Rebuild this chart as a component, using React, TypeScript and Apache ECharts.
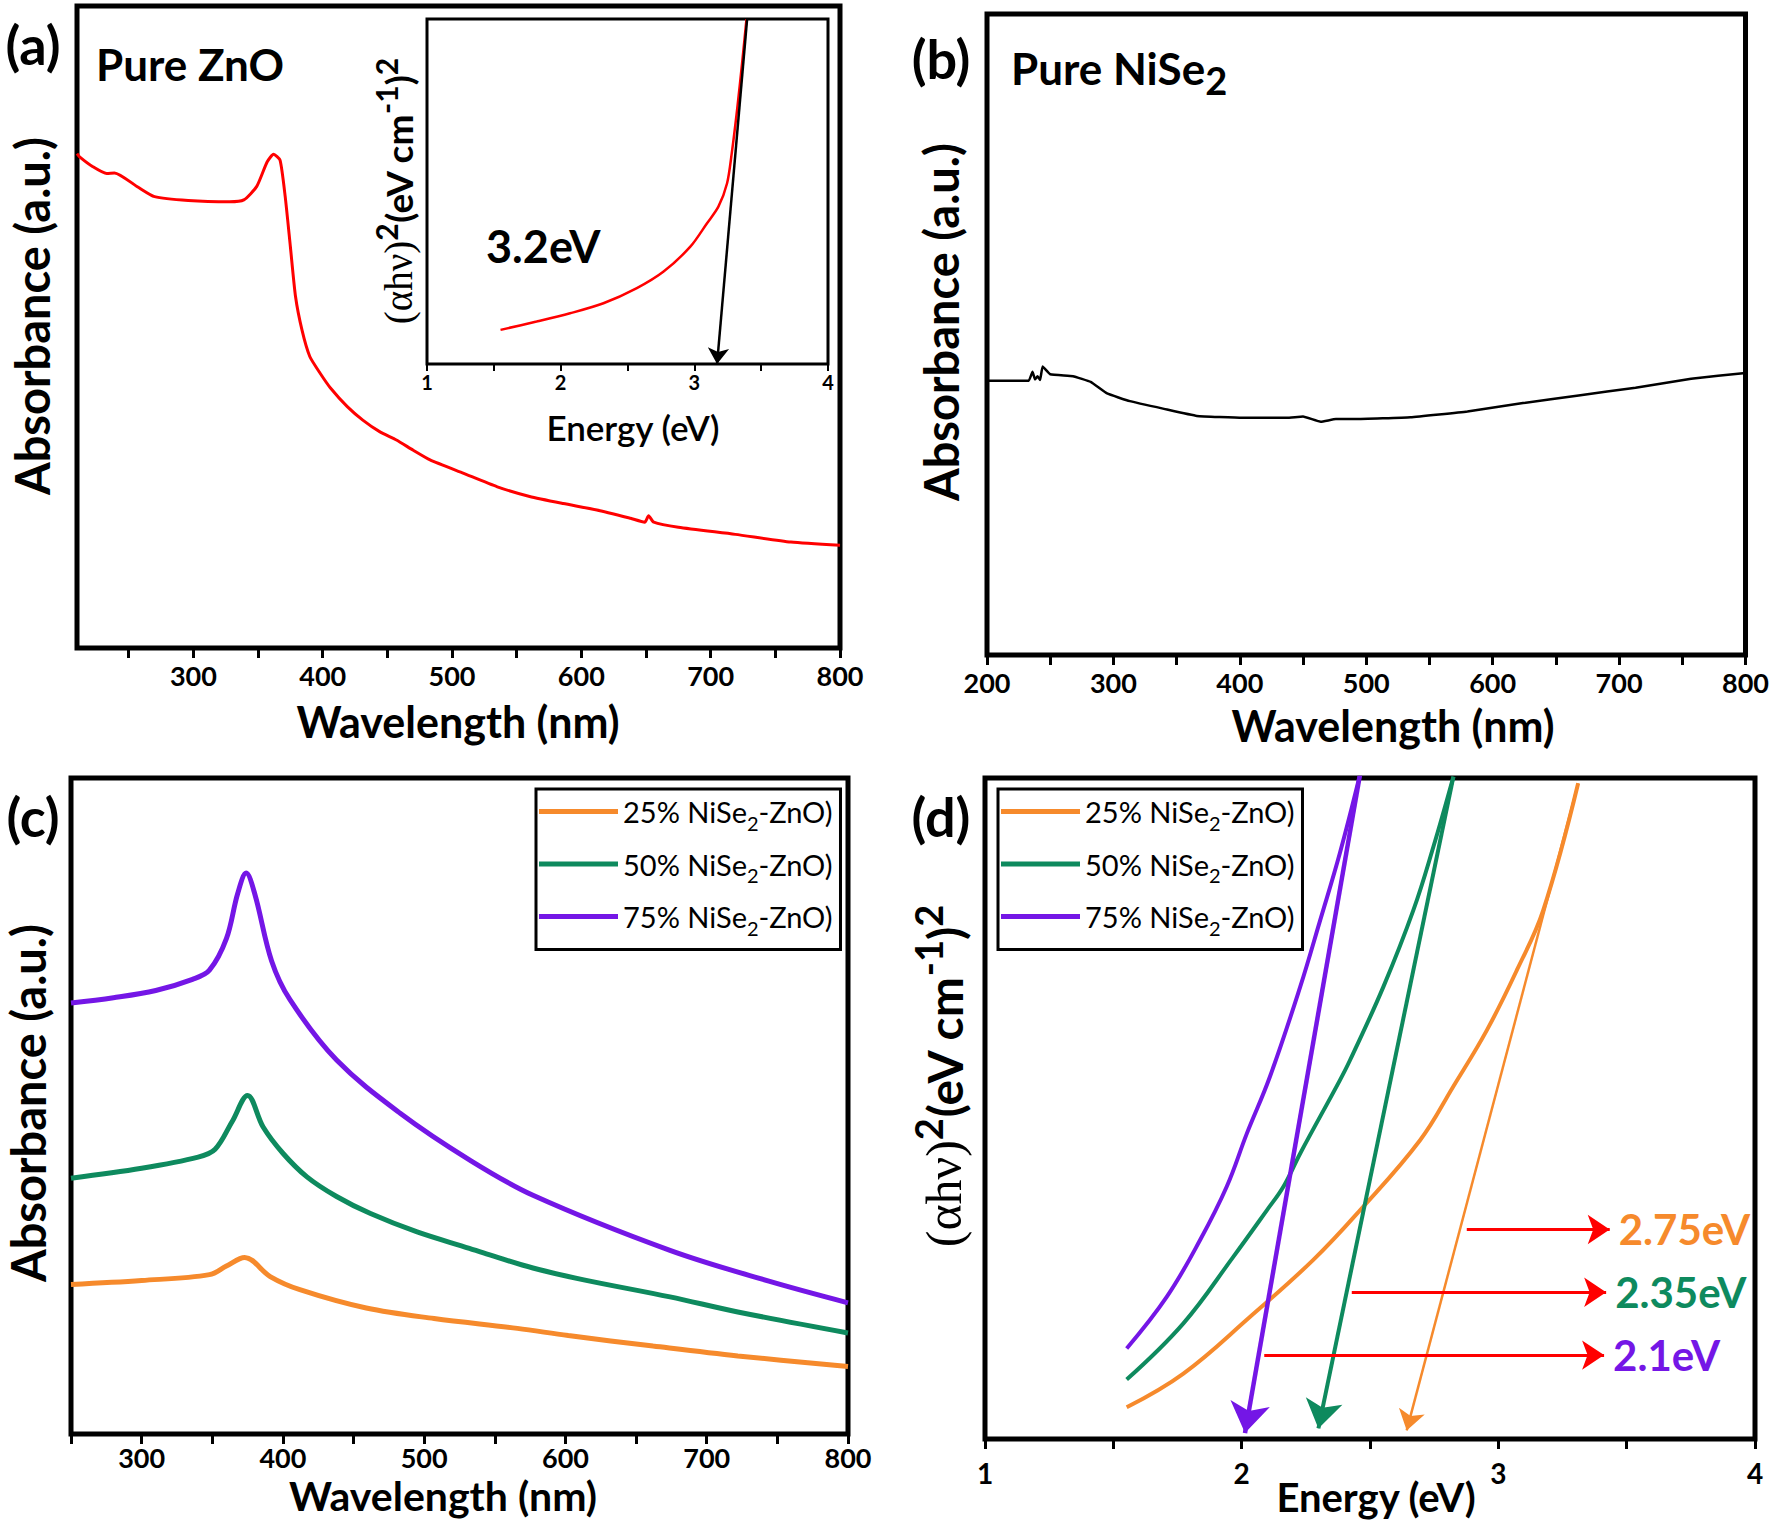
import React, { useEffect, useRef } from 'react';
import * as echarts from 'echarts';

const FONT = 'Lato, "Open Sans", "DejaVu Sans", sans-serif';
const RED = '#FF0000';
const ORANGE = '#F68A2C';
const GREEN = '#0E8A5E';
const PURPLE = '#7416E6';

// (a) Pure ZnO absorbance
const aWavelength = [210, 212, 222, 233, 239, 257, 270, 296, 328, 339, 349, 357, 362, 367, 371, 375, 379, 384, 390, 398, 406, 419, 431, 444, 457, 470, 483, 509, 535, 560, 586, 612, 638, 649, 652, 656, 675, 719, 762, 800];
const aAbsorbance = [77.0, 76.5, 75.0, 73.9, 74.0, 71.8, 70.3, 69.7, 69.5, 69.8, 71.9, 75.7, 76.9, 76.0, 70.3, 62.5, 54.7, 49.5, 45.4, 42.8, 40.5, 37.6, 35.5, 33.7, 32.4, 30.8, 29.3, 27.2, 25.1, 23.6, 22.5, 21.5, 20.2, 19.6, 20.6, 19.6, 18.8, 17.7, 16.5, 16.0];

// (a) inset Tauc plot
const insetEnergy = [1.55, 1.82, 2.07, 2.32, 2.57, 2.77, 2.97, 3.095, 3.18, 3.245, 3.28, 3.32, 3.36, 3.39];
const insetTauc = [9.9, 12.3, 14.7, 17.6, 22.0, 26.8, 34.0, 40.8, 45.6, 52.4, 61.1, 73.7, 88.2, 100];
const insetTangent = [[3.395, 100], [3.17, 0]];

// (b) Pure NiSe2 absorbance
const bWavelength = [200, 233, 236, 238, 240, 242, 244, 250, 268, 282, 295, 313, 340, 366, 402, 437, 450, 464, 476, 491, 535, 580, 624, 668, 713, 757, 800];
const bAbsorbance = [42.8, 42.8, 44.2, 43.0, 43.5, 42.9, 45.0, 43.8, 43.5, 42.6, 40.8, 39.6, 38.4, 37.3, 37.0, 37.0, 37.2, 36.4, 36.8, 36.8, 37.1, 38.0, 39.3, 40.5, 41.7, 43.1, 44.0];

// (c) composites absorbance
const seriesNames = ['25% NiSe2-ZnO)', '50% NiSe2-ZnO)', '75% NiSe2-ZnO)'];
const c25Wl = [250, 300, 348, 360, 373, 391, 412, 459, 507, 566, 602, 662, 722, 800];
const c25Abs = [22.8, 23.4, 24.3, 25.6, 26.9, 24.0, 22.0, 19.2, 17.6, 16.1, 15.0, 13.4, 11.9, 10.3];
const c50Wl = [250, 300, 340, 352, 364, 375, 386, 400, 417, 438, 462, 495, 532, 542, 577, 613, 674, 722, 800];
const c50Abs = [39.0, 40.5, 42.2, 43.4, 47.6, 51.6, 46.8, 42.8, 39.2, 36.2, 33.6, 30.8, 28.3, 27.6, 25.3, 23.5, 20.9, 18.6, 15.4];
const c75Wl = [250, 280, 310, 336, 348, 360, 368, 374, 380, 392, 405, 438, 483, 532, 577, 674, 744, 800];
const c75Abs = [65.7, 66.5, 67.6, 69.3, 70.7, 75.5, 82.4, 85.5, 82.4, 72.1, 66.2, 57.0, 48.9, 41.8, 36.4, 28.0, 23.3, 20.0];

// (d) Tauc plots
const d25E = [1.552, 1.773, 2.033, 2.279, 2.461, 2.695, 2.824, 2.956, 3.073, 3.175, 3.311];
const d25T = [4.8, 9.9, 18.5, 27.1, 34.6, 45.2, 53.3, 61.9, 71.0, 80.0, 99.2];
const d50E = [1.552, 1.773, 1.968, 2.098, 2.163, 2.228, 2.383, 2.422, 2.552, 2.669, 2.747, 2.825];
const d50T = [9.0, 17.5, 27.6, 34.6, 38.2, 43.2, 54.3, 57.3, 68.4, 80.0, 89.6, 100.2];
const d75E = [1.552, 1.708, 1.838, 1.942, 2.02, 2.11, 2.228, 2.306, 2.383, 2.461];
const d75T = [13.7, 21.5, 30.1, 38.2, 46.2, 54.8, 68.4, 78.5, 88.7, 100.5];
const dTangents = [
  [[3.311, 99.2], [2.643, 1.3]],
  [[2.825, 100.2], [2.299, 1.6]],
  [[2.461, 100.5], [2.013, 0.9]],
];
const gapLabels = ['2.75eV', '2.35eV', '2.1eV'];
const gapArrowStart = [2.877, 2.429, 2.088];
const gapArrowEnd = [3.434, 3.42, 3.412];
const gapArrowY = [31.7, 22.2, 12.7];

const wlMajors = [300, 400, 500, 600, 700, 800];
const wlMinors = [250, 350, 450, 550, 650, 750];
const bMajors = [200, 300, 400, 500, 600, 700, 800];
const eMajors = [1, 2, 3, 4];
const eMinors = [1.5, 2.5, 3.5];

const zip = (xs: number[], ys: number[]) => xs.map((x, i) => [x, ys[i]]);

function xAxis(gridIndex: number, min: number, max: number, majors: number[], minors: number[], fontSize: number, margin: number, tickLen: number, tickWidth: number) {
  return {
    type: 'value', gridIndex, min, max,
    axisLine: { show: false },
    splitLine: { show: false },
    axisTick: { show: true, customValues: majors.concat(minors), length: tickLen, lineStyle: { color: '#000', width: tickWidth } },
    axisLabel: { show: true, customValues: majors, color: '#000', fontFamily: FONT, fontWeight: 'bold', fontSize, margin },
  };
}
const yAxis = (gridIndex: number) => ({ type: 'value', gridIndex, min: 0, max: 100, show: false });

function lineSeries(name: string | undefined, xi: number, data: number[][], color: string, width: number, smooth: number) {
  return {
    type: 'line', name, xAxisIndex: xi, yAxisIndex: xi, data, color,
    showSymbol: false, symbol: 'none', smooth,
    lineStyle: { color, width }, itemStyle: { color }, z: 5,
  };
}

function arrowSeries(xi: number, coords: number[][], color: string, width: number, size: number, label?: any) {
  return {
    type: 'lines', coordinateSystem: 'cartesian2d', xAxisIndex: xi, yAxisIndex: xi,
    symbol: ['none', 'arrow'], symbolSize: size,
    lineStyle: { color, width, opacity: 1 },
    itemStyle: { color },
    data: [{ coords, label }],
    label: label ? { show: true, position: 'end', distance: 9, fontFamily: FONT, fontWeight: 'bold', fontSize: 42 } : { show: false },
    z: 6,
  };
}

const legendFormatter = (name: string) => {
  const parts = name.split('NiSe2');
  return `{n|${parts[0]}NiSe}{s|2}{n|${parts[1]}}`;
};
const legendRich = {
  n: { fontFamily: FONT, fontSize: 29, color: '#000', lineHeight: 34 },
  s: { fontFamily: FONT, fontSize: 20, color: '#000', lineHeight: 10, height: 12, verticalAlign: 'bottom' },
};
const legend = (left: number, top: number) => ({
  data: seriesNames, left, top, orient: 'vertical', icon: 'rect',
  itemWidth: 79, itemHeight: 5, itemGap: 17,
  borderColor: '#000', borderWidth: 3, padding: [8, 8, 12, 3],
  selectedMode: false, formatter: legendFormatter,
  textStyle: { color: '#000', fontFamily: FONT, fontSize: 29, rich: legendRich },
});

function text(t: string, x: number, y: number, size: number, opts: any = {}) {
  return {
    type: 'text', x, y, rotation: opts.rotation || 0, z: 100,
    style: {
      text: t, fill: opts.color || '#000', fontFamily: FONT, fontSize: size,
      fontWeight: opts.weight || 'bold', align: opts.align || 'center', verticalAlign: 'middle',
      rich: opts.rich,
    },
  };
}

const taucTitle = (size: number) => {
  const L = Math.round(size * 1.3);
  const sup = Math.round(size * 0.8);
  const h = Math.round(L - 2 * size * 0.34);
  return {
    text: '{g|(αhν)}{p|2}{b|(eV cm}{p|-1}{b|)}{p|2}',
    rich: {
      g: { fontFamily: '"Liberation Serif", serif', fontSize: size + 2, fontWeight: 'normal', lineHeight: L, fill: '#000' },
      b: { fontFamily: FONT, fontSize: size, fontWeight: 'bold', lineHeight: L, fill: '#000' },
      p: { fontFamily: FONT, fontSize: sup, fontWeight: 'bold', lineHeight: 10, height: h, verticalAlign: 'top', fill: '#000' },
    },
  };
};

const grids = [
  { left: 77, top: 6, width: 763, height: 642 },
  { left: 427, top: 19, width: 401, height: 345 },
  { left: 987, top: 14, width: 762, height: 641 },
  { left: 71, top: 778, width: 777, height: 656 },
  { left: 985, top: 778, width: 770, height: 661 },
].map((g, i) => ({ ...g, show: true, borderColor: '#000', borderWidth: i === 1 ? 3 : 5, backgroundColor: i === 1 ? '#fff' : 'transparent', containLabel: false }));

const t1 = taucTitle(37);
const t2 = taucTitle(48);

const option: any = {
  animation: false,
  backgroundColor: '#fff',
  grid: grids,
  xAxis: [
    xAxis(0, 210, 800, wlMajors, wlMinors, 27, 14, 10, 3),
    xAxis(1, 1, 4, eMajors, eMinors, 20, 8, 7, 2),
    xAxis(2, 200, 800, bMajors, wlMinors, 27, 14, 10, 3),
    xAxis(3, 250, 800, wlMajors, wlMinors, 27, 10, 10, 3),
    xAxis(4, 1, 4, eMajors, eMinors, 28, 20, 10, 3),
  ],
  yAxis: [yAxis(0), yAxis(1), yAxis(2), yAxis(3), yAxis(4)],
  legend: [legend(536, 789), legend(998, 789)],
  series: [
    lineSeries('ZnO', 0, zip(aWavelength, aAbsorbance), RED, 3, 0.2),
    lineSeries('ZnO Tauc', 1, zip(insetEnergy, insetTauc), RED, 2.5, 0.3),
    arrowSeries(1, insetTangent, '#000', 2.5, 16),
    lineSeries('NiSe2', 2, zip(bWavelength, bAbsorbance), '#000', 2.5, 0.1),
    lineSeries(seriesNames[0], 3, zip(c25Wl, c25Abs), ORANGE, 5, 0.35),
    lineSeries(seriesNames[1], 3, zip(c50Wl, c50Abs), GREEN, 5, 0.35),
    lineSeries(seriesNames[2], 3, zip(c75Wl, c75Abs), PURPLE, 5, 0.35),
    lineSeries(seriesNames[0], 4, zip(d25E, d25T), ORANGE, 4, 0.4),
    lineSeries(seriesNames[1], 4, zip(d50E, d50T), GREEN, 4, 0.4),
    lineSeries(seriesNames[2], 4, zip(d75E, d75T), PURPLE, 4, 0.4),
    arrowSeries(4, dTangents[0], ORANGE, 2.5, 20),
    arrowSeries(4, dTangents[1], GREEN, 4, 28),
    arrowSeries(4, dTangents[2], PURPLE, 4.5, 30),
    ...gapLabels.map((lab, i) => arrowSeries(4, [[gapArrowStart[i], gapArrowY[i]], [gapArrowEnd[i], gapArrowY[i]]], RED, 3, 22,
      { formatter: lab, color: [ORANGE, GREEN, PURPLE][i] })),
  ],
  graphic: [
    text('(a)', 33, 44, 54),
    text('(b)', 941, 58, 54),
    text('(c)', 33, 816, 54),
    text('(d)', 941, 816, 54),
    text('Pure ZnO', 96, 64, 44, { align: 'left' }),
    text('{a|Pure NiSe}{b|2}', 1011, 68, 44, {
      align: 'left',
      rich: {
        a: { fontFamily: FONT, fontSize: 44, fontWeight: 'bold', lineHeight: 54, fill: '#000' },
        b: { fontFamily: FONT, fontSize: 38, fontWeight: 'bold', lineHeight: 10, height: 30, verticalAlign: 'bottom', fill: '#000' },
      },
    }),
    text('3.2eV', 486, 246, 45, { align: 'left' }),
    text('Wavelength (nm)', 458, 721, 43),
    text('Wavelength (nm)', 1393, 725, 43),
    text('Wavelength (nm)', 443, 1495, 41),
    text('Energy (eV)', 1376, 1497, 40),
    text('Energy (eV)', 633, 427, 35, { weight: 600 }),
    text('Absorbance (a.u.)', 32, 316, 47, { rotation: Math.PI / 2 }),
    text('Absorbance (a.u.)', 941, 322, 47, { rotation: Math.PI / 2 }),
    text('Absorbance (a.u.)', 28, 1103, 47, { rotation: Math.PI / 2 }),
    text(t1.text, 398, 191, 37, { rotation: Math.PI / 2, rich: t1.rich }),
    text(t2.text, 944, 1076, 48, { rotation: Math.PI / 2, rich: t2.rich }),
  ],
};

export default function App() {
  const ref = useRef<HTMLDivElement>(null);
  useEffect(() => {
    const chart = echarts.init(ref.current as HTMLDivElement, null, { renderer: 'svg' });
    chart.setOption(option);
    return () => chart.dispose();
  }, []);
  return <div ref={ref} style={{ position: 'absolute', left: 0, top: 0, width: 1772, height: 1522, background: '#fff' }} />;
}
